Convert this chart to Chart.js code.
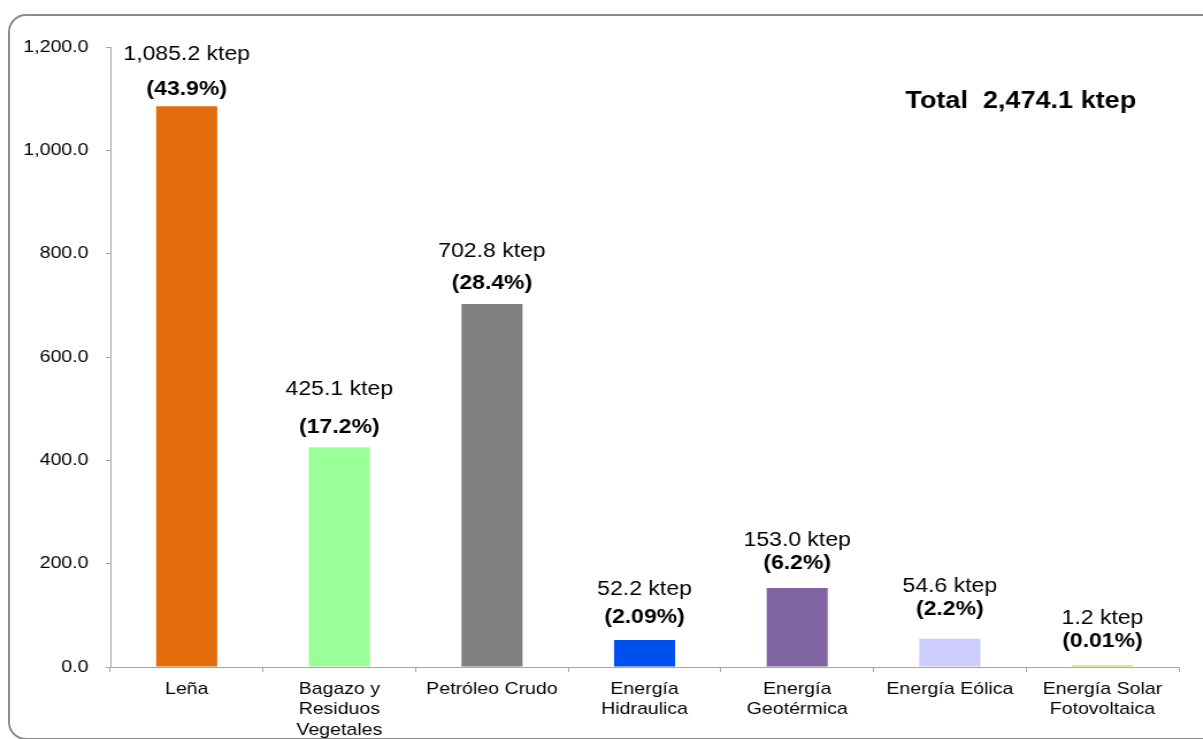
<!DOCTYPE html>
<html>
<head>
<meta charset="utf-8">
<script src="https://cdn.jsdelivr.net/npm/chart.js@4/dist/chart.umd.min.js"></script>
<style>
  body { margin: 0; background: #fff; overflow: hidden; width: 1203px; height: 739px; position: relative; }
  #marco { position: absolute; left: 8px; top: 14px; width: 1215px; height: 722px; border: 2px solid #8c8c8c; border-radius: 18px; }
  /* el original viene estirado a lo ancho */
  #lienzo { position: absolute; left: 0; top: 0; width: 1046px; height: 739px; transform: scaleX(1.15); transform-origin: 0 0; }
</style>
</head>
<body>
<div id="marco"></div>
<div id="lienzo"><canvas id="grafico" width="1046" height="739"></canvas></div>
<script>
// datos (ktep)
const categorias = [
  ['Leña'],
  ['Bagazo y', 'Residuos', 'Vegetales'],
  ['Petróleo Crudo'],
  ['Energía', 'Hidraulica'],
  ['Energía', 'Geotérmica'],
  ['Energía Eólica'],
  ['Energía Solar', 'Fotovoltaica']
]
const valores = [1085.2, 425.1, 702.8, 52.2, 153.0, 54.6, 1.2]
const porcentajes = ['43.9%', '17.2%', '28.4%', '2.09%', '6.2%', '2.2%', '0.01%']
const colores = ['#e46c0a', '#99ff99', '#808080', '#0050ef', '#8064a2', '#ccccff', '#e8e04a']
const total = 2474.1
const ticksY = [0, 200, 400, 600, 800, 1000, 1200]

const fuente = '"Liberation Sans", Arial, sans-serif'

function formato(n) {
  return n.toLocaleString('en-US', { minimumFractionDigits: 1, maximumFractionDigits: 1 })
}

// etiquetas de valor y porcentaje encima de cada barra + el total
const etiquetasPlugin = {
  id: 'etiquetas',
  afterDatasetsDraw(chart, args, opts) {
    const ctx = chart.ctx
    const barras = chart.getDatasetMeta(0).data
    ctx.save()
    ctx.fillStyle = '#000'
    ctx.textAlign = 'center'
    ctx.textBaseline = 'middle'
    barras.forEach((barra, i) => {
      let d = opts.desplazamientos[i]
      let base = chart.scales.y.getPixelForValue(valores[i])
      ctx.font = '20px ' + fuente
      ctx.fillText(formato(valores[i]) + ' ktep', barra.x, base - d[1])
      ctx.font = 'bold 20px ' + fuente
      ctx.fillText('(' + porcentajes[i] + ')', barra.x, base - d[0])
    })
    ctx.font = 'bold 23.5px ' + fuente
    ctx.textAlign = 'right'
    ctx.fillText('Total  ' + formato(total) + ' ktep', chart.chartArea.right - 37, chart.chartArea.top + 55)
    ctx.restore()
  }
}

const ctx = document.getElementById('grafico')
new Chart(ctx, {
  type: 'bar',
  data: {
    labels: categorias,
    datasets: [{
      data: valores,
      backgroundColor: colores,
      borderWidth: 0,
      minBarLength: 2,
      barPercentage: 0.5,
      categoryPercentage: 0.8
    }]
  },
  options: {
    responsive: false,
    animation: false,
    layout: { padding: { top: 47, right: 21, left: 0, bottom: 0 } },
    plugins: {
      legend: { display: false },
      tooltip: { enabled: false },
      etiquetas: {
        desplazamientos: [[17, 52], [20, 58], [20, 52], [23, 51], [24, 47], [29, 52], [25, 48]]
      }
    },
    scales: {
      x: {
        grid: { drawOnChartArea: false, tickLength: 5, color: '#a6a6a6' },
        border: { color: '#a6a6a6' },
        ticks: { color: '#000', font: { family: fuente, size: 17 }, padding: 7, maxRotation: 0, autoSkip: false },
        afterFit: (s) => { s.height = 72 }
      },
      y: {
        min: 0,
        max: 1200,
        grid: { drawOnChartArea: false, tickLength: 4, color: '#a6a6a6' },
        border: { color: '#a6a6a6' },
        afterBuildTicks: (s) => { s.ticks = ticksY.map(v => ({ value: v })) },
        ticks: {
          color: '#000',
          font: { family: fuente, size: 17 },
          padding: 15,
          callback: (v) => formato(v)
        },
        afterFit: (s) => { s.width = 96 }
      }
    }
  },
  plugins: [etiquetasPlugin]
})
</script>
</body>
</html>
